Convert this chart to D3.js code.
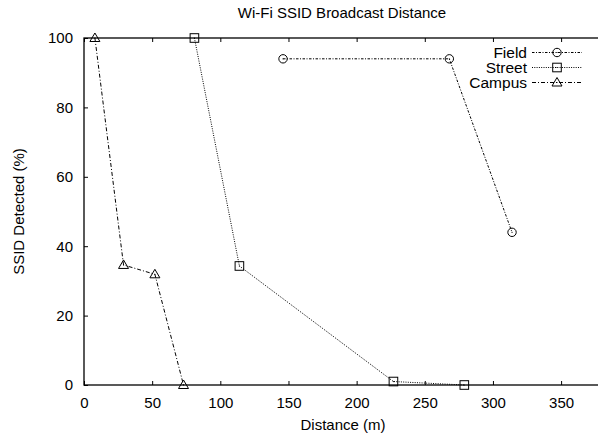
<!DOCTYPE html>
<html>
<head>
<meta charset="utf-8">
<script src="https://cdn.jsdelivr.net/npm/d3@7"></script>
<style>
  body { margin: 0; background: #fff; }
  svg { display: block; }
  text { font-family: "Liberation Sans", Arial, Helvetica, sans-serif; fill: #000; }
</style>
</head>
<body>
<svg id="graph" width="598" height="434"></svg>
<script>
// data
var fieldDist = [146, 268, 314];
var fieldPct = [94, 94, 44];

var streetDist = [81, 114, 227, 279];
var streetPct = [100, 34.3, 1, 0];

var campusDist = [8, 29, 52, 73];
var campusPct = [100, 34.6, 31.9, 0];

var seriesNames = ["Field", "Street", "Campus"];
var xTicks = [0, 50, 100, 150, 200, 250, 300, 350];
var yTicks = [0, 20, 40, 60, 80, 100];

var margin = { top: 38, right: -4, bottom: 49, left: 84 },
  width = 598 - margin.left - margin.right,
  height = 434 - margin.top - margin.bottom;

var x = d3.scaleLinear().domain([0, 380]).range([0, width]);
var y = d3.scaleLinear().domain([0, 100]).range([height, 0]);

var svg = d3.select("#graph");
var graph = svg.append("g").attr("transform", "translate(" + margin.left + "," + margin.top + ")");

// ticks, gnuplot style: inward and mirrored
var xAxisB = d3.axisBottom(x).tickValues(xTicks).tickSizeInner(-4).tickSizeOuter(0).tickPadding(12);
var xAxisT = d3.axisTop(x).tickValues(xTicks).tickSizeInner(-4).tickSizeOuter(0).tickFormat("");
var yAxisL = d3.axisLeft(y).tickValues(yTicks).tickSizeInner(-4).tickSizeOuter(0).tickPadding(11);
var yAxisR = d3.axisRight(y).tickValues(yTicks).tickSizeInner(-4).tickSizeOuter(0).tickFormat("");

function styleAxis(g) {
  g.select(".domain").remove();
  g.selectAll("line").attr("stroke", "#000").attr("stroke-width", 1);
  g.selectAll("text").style("font-size", "15px").attr("fill", "#000");
}

graph.append("g").attr("transform", "translate(0," + height + ")").call(xAxisB).call(styleAxis);
graph.append("g").call(xAxisT).call(styleAxis);
graph.append("g").call(yAxisL).call(styleAxis);
graph.append("g").attr("transform", "translate(" + width + ",0)").call(yAxisR).call(styleAxis);

graph.append("rect")
  .attr("width", width)
  .attr("height", height)
  .attr("fill", "none")
  .attr("stroke", "#000")
  .attr("stroke-width", 1.3);

// labels
svg.append("text")
  .attr("x", 342)
  .attr("y", 18)
  .attr("text-anchor", "middle")
  .style("font-size", "15px")
  .text("Wi-Fi SSID Broadcast Distance");

svg.append("text")
  .attr("x", margin.left + x(190))
  .attr("y", 430)
  .attr("text-anchor", "middle")
  .style("font-size", "15px")
  .text("Distance (m)");

svg.append("text")
  .attr("transform", "translate(24," + (margin.top + height / 2) + ") rotate(-90)")
  .attr("text-anchor", "middle")
  .style("font-size", "15px")
  .text("SSID Detected (%)");

// series
var series = [
  { name: seriesNames[0], xs: fieldDist, ys: fieldPct, dash: "2.5,1.5,1,1.5", mark: "circle" },
  { name: seriesNames[1], xs: streetDist, ys: streetPct, dash: "1,1.3", mark: "square" },
  { name: seriesNames[2], xs: campusDist, ys: campusPct, dash: "4,2,1,2", mark: "triangle" }
];

var line = d3.line()
  .x(function (d) { return x(d[0]); })
  .y(function (d) { return y(d[1]); });

function drawMark(g, kind, cx, cy) {
  if (kind === "circle") {
    g.append("circle").attr("cx", cx).attr("cy", cy).attr("r", 4.2);
  } else if (kind === "square") {
    g.append("rect").attr("x", cx - 4.3).attr("y", cy - 4.3).attr("width", 8.6).attr("height", 8.6);
  } else {
    g.append("path").attr("d", "M" + cx + "," + (cy - 5) + "L" + (cx + 5) + "," + (cy + 3.5) + "L" + (cx - 5) + "," + (cy + 3.5) + "Z");
  }
  g.append("circle").attr("cx", cx).attr("cy", cy).attr("r", 0.6).attr("fill", "#000").attr("stroke", "none");
}

series.forEach(function (s) {
  var pts = s.xs.map(function (d, i) { return [d, s.ys[i]]; });
  graph.append("path")
    .datum(pts)
    .attr("d", line)
    .attr("fill", "none")
    .attr("stroke", "#000")
    .attr("stroke-width", 1)
    .attr("stroke-dasharray", s.dash);

  var marks = graph.append("g").attr("fill", "none").attr("stroke", "#000").attr("stroke-width", 1);
  pts.forEach(function (p) {
    drawMark(marks, s.mark, x(p[0]), y(p[1]));
  });
});

// legend
var legend = svg.append("g");
series.forEach(function (s, i) {
  var ly = 52.5 + i * 15;
  legend.append("text")
    .attr("x", 527)
    .attr("y", ly + 5.5)
    .attr("text-anchor", "end")
    .style("font-size", "15.5px")
    .text(s.name);
  legend.append("line")
    .attr("x1", 532).attr("x2", 582)
    .attr("y1", ly).attr("y2", ly)
    .attr("stroke", "#000")
    .attr("stroke-width", 1)
    .attr("stroke-dasharray", s.dash);
  var m = legend.append("g").attr("fill", "none").attr("stroke", "#000").attr("stroke-width", 1);
  drawMark(m, s.mark, 557, ly);
});
</script>
</body>
</html>
